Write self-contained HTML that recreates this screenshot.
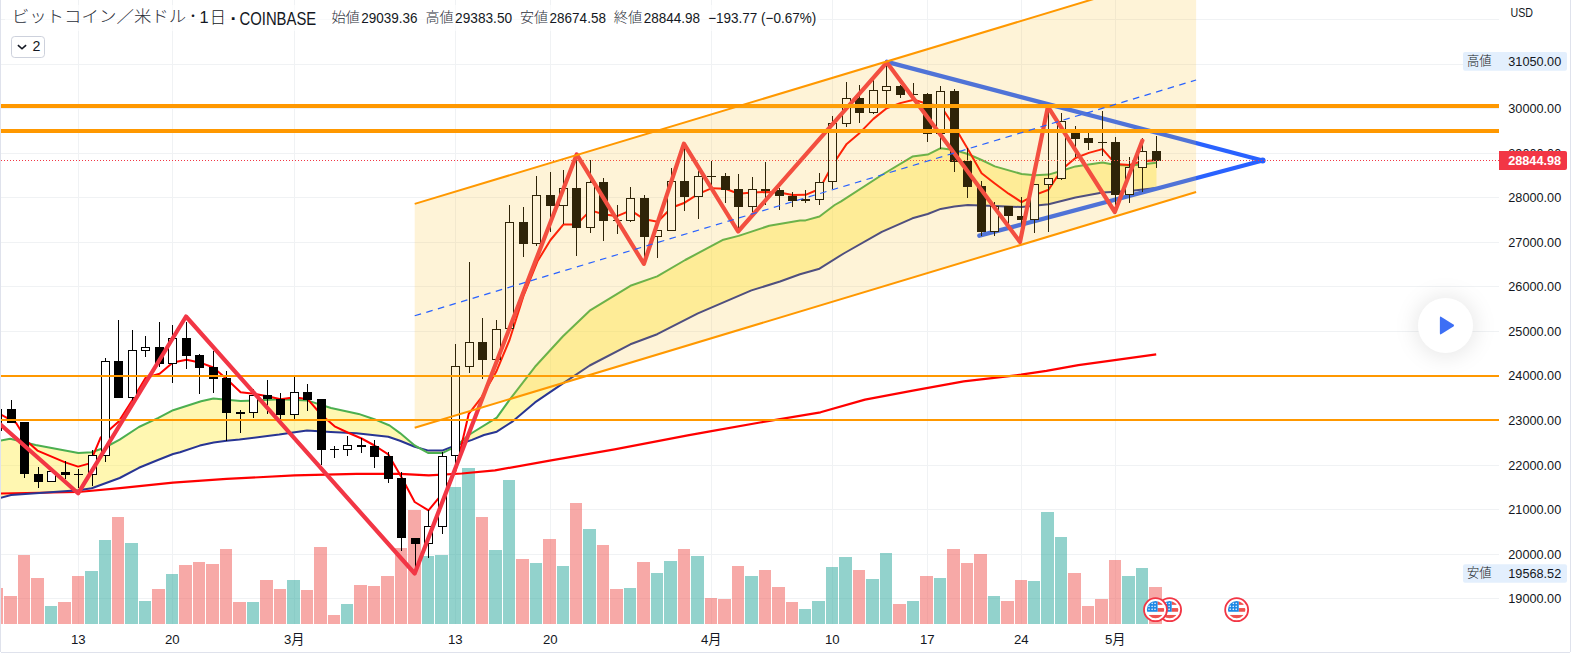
<!DOCTYPE html>
<html lang="ja"><head><meta charset="utf-8"><title>ビットコイン／米ドル</title>
<style>html,body{margin:0;padding:0;background:#fff;overflow:hidden}body{width:1571px;height:655px;position:relative;font-family:"Liberation Sans","Noto Sans CJK JP",sans-serif}</style>
</head><body>
<svg width="1571" height="655" viewBox="0 0 1571 655" style="position:absolute;left:0;top:0;display:block">
<defs><clipPath id="cp"><rect x="1" y="0" width="1498" height="624"/></clipPath><clipPath id="cv"><rect x="1" y="0" width="1498" height="652"/></clipPath>
<filter id="sh" x="-100%" y="-100%" width="300%" height="300%"><feGaussianBlur stdDeviation="10"/></filter>
<clipPath id="fc"><circle cx="0" cy="0" r="8.7"/></clipPath></defs>
<rect width="1571" height="655" fill="#fff"/>
<path d="M1 19.5H1499 M1 64.5H1499 M1 108.5H1499 M1 153.5H1499 M1 197.5H1499 M1 242.5H1499 M1 286.5H1499 M1 331.5H1499 M1 375.5H1499 M1 420.5H1499 M1 465.5H1499 M1 509.5H1499 M1 554.5H1499 M1 598.5H1499 M78.5 0V624 M172.5 0V624 M294.5 0V624 M455.5 0V624 M550.5 0V624 M711.5 0V624 M832.5 0V624 M927.5 0V624 M1021.5 0V624 M1115.5 0V624" stroke="#f0f2f4" stroke-width="1" fill="none" shape-rendering="crispEdges"/>
<g clip-path="url(#cv)">
<path d="M45 606H57V624H45ZM85 571H98V624H85ZM99 540H111V624H99ZM125 543H138V624H125ZM139 601H151V624H139ZM166 574H178V624H166ZM247 602H259V624H247ZM287 580H300V624H287ZM341 604H353V624H341ZM422 556H434V624H422ZM435 555H448V624H435ZM449 487H461V624H449ZM462 468H475V624H462ZM489 550H502V624H489ZM503 480H515V624H503ZM530 563H542V624H530ZM557 566H569V624H557ZM583 529H596V624H583ZM624 588H636V624H624ZM651 573H663V624H651ZM664 561H677V624H664ZM691 556H704V624H691ZM745 576H758V624H745ZM799 609H811V624H799ZM812 601H825V624H812ZM826 567H838V624H826ZM839 557H852V624H839ZM866 579H879V624H866ZM880 553H892V624H880ZM907 601H919V624H907ZM934 578H946V624H934ZM988 596H1000V624H988ZM1028 581H1040V624H1028ZM1041 512H1054V624H1041ZM1055 537H1067V624H1055ZM1122 576H1135V624H1122ZM1136 568H1148V624H1136Z" fill="#26a69a" fill-opacity="0.5" shape-rendering="crispEdges"/>
<path d="M-9 588H3V624H-9ZM4 596H17V624H4ZM18 555H30V624H18ZM31 578H44V624H31ZM58 602H71V624H58ZM72 576H84V624H72ZM112 517H124V624H112ZM152 589H165V624H152ZM179 565H192V624H179ZM193 562H205V624H193ZM206 564H219V624H206ZM220 549H232V624H220ZM233 602H246V624H233ZM260 580H273V624H260ZM274 589H286V624H274ZM301 590H313V624H301ZM314 547H327V624H314ZM328 615H340V624H328ZM354 585H367V624H354ZM368 586H380V624H368ZM381 576H394V624H381ZM395 548H407V624H395ZM408 510H421V624H408ZM476 517H488V624H476ZM516 559H529V624H516ZM543 539H556V624H543ZM570 503H582V624H570ZM597 545H609V624H597ZM610 589H623V624H610ZM637 562H650V624H637ZM678 549H690V624H678ZM705 598H717V624H705ZM718 599H731V624H718ZM732 566H744V624H732ZM759 570H771V624H759ZM772 587H785V624H772ZM786 602H798V624H786ZM853 570H865V624H853ZM893 604H906V624H893ZM920 576H933V624H920ZM947 549H960V624H947ZM961 563H973V624H961ZM974 554H987V624H974ZM1001 601H1014V624H1001ZM1015 580H1027V624H1015ZM1068 573H1081V624H1068ZM1082 606H1094V624H1082ZM1095 599H1108V624H1095ZM1109 560H1121V624H1109ZM1149 587H1162V624H1149Z" fill="#ef5350" fill-opacity="0.5" shape-rendering="crispEdges"/>
</g>
<g clip-path="url(#cp)">
<polygon points="0.0,440.6 10.2,438.7 35.6,445.0 78.4,453.0 91.7,452.2 105.0,447.5 119.7,439.6 138.9,427.0 157.9,418.2 173.1,410.2 201.1,401.3 213.4,398.5 240.6,401.1 280.0,399.3 307.8,400.6 331.0,408.0 358.6,413.9 374.3,419.2 389.6,425.5 400.0,433.1 414.7,445.5 428.5,453.1 442.2,453.1 455.5,446.7 468.7,435.0 496.8,417.7 509.5,399.9 535.0,366.8 563.0,336.2 589.7,310.7 630.4,285.8 657.2,276.4 685.2,260.0 723.4,239.7 738.6,235.9 769.2,225.7 800.0,220.6 805.5,220.4 819.5,216.5 834.7,205.0 841.1,201.3 881.8,175.0 912.4,156.6 927.7,154.6 940.7,148.2 954.4,150.0 967.8,154.0 981.6,160.0 994.8,166.4 1021.6,174.0 1035.1,175.3 1048.6,174.6 1061.8,170.7 1075.5,166.4 1088.8,164.6 1102.5,162.6 1115.5,165.0 1129.5,165.5 1142.8,164.2 1156.5,162.7 1156.5,188.1 1129.5,191.1 1102.5,192.4 1075.5,197.5 1048.6,204.3 1021.6,207.1 994.8,205.9 967.8,205.1 954.4,206.4 940.7,208.9 927.7,214.0 912.4,218.3 881.8,231.8 843.7,253.5 819.5,268.7 800.0,274.3 780.0,281.5 751.4,290.4 697.9,313.3 657.2,334.2 630.4,344.3 589.7,365.5 563.0,383.3 535.0,402.4 512.8,421.3 496.8,431.7 484.0,435.0 472.0,439.9 455.5,445.5 442.2,450.6 428.5,450.6 414.7,446.7 400.0,440.7 388.3,436.7 356.5,433.3 330.8,432.0 307.0,430.6 279.2,434.6 267.4,436.0 239.5,439.5 226.6,440.8 213.7,442.6 199.8,445.6 180.0,452.2 173.1,454.0 157.9,460.0 138.9,467.8 119.7,478.0 91.7,488.3 78.4,490.3 11.0,495.0 0.0,498.0" fill="#ffeb3b" fill-opacity="0.4"/>
<polyline points="0.0,493.5 78.0,492.0 120.0,488.2 173.0,482.7 226.6,478.9 294.6,475.4 356.5,473.8 400.0,473.8 428.7,475.3 461.8,473.5 495.0,470.4 549.7,460.7 614.6,449.3 687.7,435.3 711.4,431.2 760.0,422.5 820.5,412.3 865.0,399.6 912.8,390.7 963.7,381.4 1021.0,374.7 1046.4,370.9 1078.3,365.2 1116.5,359.8 1156.2,354.4" fill="none" stroke="#ff0000" stroke-width="2.2" stroke-linejoin="round"/>
<polyline points="0.0,498.0 11.0,495.0 78.4,490.3 91.7,488.3 119.7,478.0 138.9,467.8 157.9,460.0 173.1,454.0 180.0,452.2 199.8,445.6 213.7,442.6 226.6,440.8 239.5,439.5 267.4,436.0 279.2,434.6 307.0,430.6 330.8,432.0 356.5,433.3 388.3,436.7 400.0,440.7 414.7,446.7 428.5,450.6 442.2,450.6 455.5,445.5 472.0,439.9 484.0,435.0 496.8,431.7 512.8,421.3 535.0,402.4 563.0,383.3 589.7,365.5 630.4,344.3 657.2,334.2 697.9,313.3 751.4,290.4 780.0,281.5 800.0,274.3 819.5,268.7 843.7,253.5 881.8,231.8 912.4,218.3 927.7,214.0 940.7,208.9 954.4,206.4 967.8,205.1 994.8,205.9 1021.6,207.1 1048.6,204.3 1075.5,197.5 1102.5,192.4 1129.5,191.1 1156.5,188.1" fill="none" stroke="#283593" stroke-width="2" stroke-linejoin="round"/>
<polyline points="0.0,440.6 10.2,438.7 35.6,445.0 78.4,453.0 91.7,452.2 105.0,447.5 119.7,439.6 138.9,427.0 157.9,418.2 173.1,410.2 201.1,401.3 213.4,398.5 240.6,401.1 280.0,399.3 307.8,400.6 331.0,408.0 358.6,413.9 374.3,419.2 389.6,425.5 400.0,433.1 414.7,445.5 428.5,453.1 442.2,453.1 455.5,446.7 468.7,435.0 496.8,417.7 509.5,399.9 535.0,366.8 563.0,336.2 589.7,310.7 630.4,285.8 657.2,276.4 685.2,260.0 723.4,239.7 738.6,235.9 769.2,225.7 800.0,220.6 805.5,220.4 819.5,216.5 834.7,205.0 841.1,201.3 881.8,175.0 912.4,156.6 927.7,154.6 940.7,148.2 954.4,150.0 967.8,154.0 981.6,160.0 994.8,166.4 1021.6,174.0 1035.1,175.3 1048.6,174.6 1061.8,170.7 1075.5,166.4 1088.8,164.6 1102.5,162.6 1115.5,165.0 1129.5,165.5 1142.8,164.2 1156.5,162.7" fill="none" stroke="#4caf50" stroke-width="2" stroke-linejoin="round"/>
<polyline points="0.0,414.2 16.0,422.8 27.8,442.0 37.4,450.6 65.2,462.4 78.1,466.6 89.8,463.4 100.5,437.8 118.7,421.5 132.4,400.0 145.6,377.7 159.6,373.8 172.9,362.4 186.6,359.8 199.6,362.4 213.4,367.5 226.6,378.9 240.6,392.2 253.9,393.7 267.4,396.2 280.6,399.3 294.6,397.3 307.8,399.3 321.6,415.0 334.6,426.3 347.6,432.5 361.6,438.5 374.5,445.5 388.3,454.4 401.5,477.3 414.7,502.0 428.5,510.4 442.2,493.8 455.5,470.9 468.7,413.9 481.5,397.3 496.2,371.8 509.5,340.0 523.5,296.0 537.5,261.3 550.5,240.0 563.5,224.4 576.7,224.4 590.5,210.4 603.7,214.2 617.2,216.2 630.7,210.4 644.4,219.3 657.7,221.8 671.4,207.8 684.7,202.7 698.4,193.8 711.9,188.2 725.4,188.7 738.6,193.8 752.4,192.6 765.9,192.0 779.4,192.6 792.6,195.1 805.5,194.8 819.5,189.0 832.7,164.8 846.7,143.9 859.7,132.9 873.4,118.9 886.7,108.2 900.2,103.1 913.9,99.8 927.7,104.0 940.7,106.0 954.4,126.6 967.8,149.1 981.6,173.3 994.8,183.5 1008.6,193.7 1021.6,202.1 1035.1,194.9 1048.6,189.8 1061.8,169.5 1075.5,158.0 1088.8,152.9 1102.5,149.1 1115.5,163.9 1129.5,164.9 1142.5,161.2 1156.4,160.3" fill="none" stroke="#ff0000" stroke-width="2" stroke-linejoin="round"/>
<path d="M886.9 61.8L1262.6 160.5L979.3 235.7" stroke="#2962ff" stroke-width="4.3" fill="none" stroke-linejoin="round" stroke-linecap="round"/>
<circle cx="1262.6" cy="160.5" r="3" fill="#2962ff"/>
<path d="M-2.5 409V431M11.5 400V423M24.5 422V478M38.5 467V488M65.5 461V479M78.5 469V488M92.5 450V455M92.5 475V486M105.5 358V361M105.5 456V462M118.5 320V398M132.5 330V350M132.5 398V401M145.5 336V347M145.5 351V357M159.5 322V367M172.5 325V338M172.5 364V383M186.5 322V369M199.5 354V394M213.5 351V393M226.5 371V441M240.5 410V433M253.5 389V395M253.5 413V418M267.5 380V414M280.5 393V419M294.5 377V392M294.5 415V419M307.5 384V411M321.5 399V465M334.5 446V458M347.5 436V445M347.5 450V456M361.5 438V453M374.5 440V468M388.5 452V483M401.5 472V551M415.5 538V573M428.5 510V526M428.5 544V558M442.5 452V456M442.5 527V534M455.5 344V366M455.5 456V465M469.5 262V342M469.5 367V373M482.5 318V379M496.5 320V329M509.5 205V222M523.5 207V257M536.5 176V195M536.5 244V246M550.5 172V232M563.5 170V188M563.5 206V224M576.5 153V256M590.5 160V182M590.5 228V233M603.5 178V241M617.5 205V234M630.5 187V198M630.5 221V222M644.5 195V259M657.5 237V258M671.5 168V181M684.5 145V211M698.5 171V176M698.5 197V219M711.5 161V187M725.5 173V203M738.5 174V232M752.5 177V189M752.5 207V212M765.5 162V205M779.5 188V210M792.5 192V207M805.5 190V203M819.5 173V182M819.5 200V205M832.5 116V123M832.5 182V189M846.5 82V98M846.5 124V127M859.5 85V123M873.5 80V90M873.5 113V114M886.5 62V86M886.5 91V105M900.5 85V98M913.5 83V100M927.5 93V142M940.5 86V91M940.5 134V149M954.5 89V172M967.5 148V198M981.5 181V236M994.5 202V206M994.5 232V236M1008.5 206V226M1021.5 197V242M1034.5 220V233M1048.5 109V178M1048.5 185V232M1061.5 113V121M1061.5 179V180M1075.5 126V157M1088.5 133V150M1102.5 111V156M1115.5 137V214M1129.5 157V167M1129.5 195V203M1142.5 138V151M1142.5 168V192M1156.5 136V168" stroke="#000" stroke-width="1" fill="none" shape-rendering="crispEdges"/>
<path d="M-7 409H2V431H-7ZM7 409H16V423H7ZM20 422H29V474H20ZM34 474H43V482H34ZM61 472H70V475H61ZM74 474H83V475H74ZM114 361H123V398H114ZM155 347H164V364H155ZM182 338H191V356H182ZM195 355H204V368H195ZM209 367H218V379H209ZM222 378H231V413H222ZM236 412H245V414H236ZM263 395H272V399H263ZM276 399H285V415H276ZM303 392H312V400H303ZM317 399H326V450H317ZM330 449H339V450H330ZM357 445H366V447H357ZM370 446H379V457H370ZM384 456H393V479H384ZM397 478H406V538H397ZM411 538H420V544H411ZM478 342H487V360H478ZM519 222H528V244H519ZM546 195H555V206H546ZM572 188H581V228H572ZM599 182H608V221H599ZM613 220H622V221H613ZM640 198H649V237H640ZM680 181H689V197H680ZM707 176H716V177H707ZM721 176H730V190H721ZM734 189H743V207H734ZM761 189H770V191H761ZM775 190H784V196H775ZM788 196H797V201H788ZM801 199H810V201H801ZM855 98H864V113H855ZM896 86H905V95H896ZM909 94H918V95H909ZM923 94H932V134H923ZM950 91H959V162H950ZM963 161H972V187H963ZM977 186H986V232H977ZM1004 206H1013V216H1004ZM1017 216H1026V220H1017ZM1071 132H1080V139H1071ZM1084 138H1093V143H1084ZM1098 142H1107V143H1098ZM1111 142H1120V195H1111ZM1152 151H1161V161H1152Z" fill="#000" shape-rendering="crispEdges"/>
<path d="M47.5 471.5H55.5V481.5H47.5ZM88.5 455.5H96.5V474.5H88.5ZM101.5 361.5H109.5V455.5H101.5ZM128.5 350.5H136.5V397.5H128.5ZM141.5 347.5H149.5V350.5H141.5ZM168.5 338.5H176.5V363.5H168.5ZM249.5 395.5H257.5V412.5H249.5ZM290.5 392.5H298.5V414.5H290.5ZM343.5 445.5H351.5V449.5H343.5ZM424.5 526.5H432.5V543.5H424.5ZM438.5 456.5H446.5V526.5H438.5ZM451.5 366.5H459.5V455.5H451.5ZM465.5 342.5H473.5V366.5H465.5ZM492.5 329.5H500.5V359.5H492.5ZM505.5 222.5H513.5V328.5H505.5ZM532.5 195.5H540.5V243.5H532.5ZM559.5 188.5H567.5V205.5H559.5ZM586.5 182.5H594.5V227.5H586.5ZM626.5 198.5H634.5V220.5H626.5ZM653.5 230.5H661.5V236.5H653.5ZM667.5 181.5H675.5V230.5H667.5ZM694.5 176.5H702.5V196.5H694.5ZM748.5 189.5H756.5V206.5H748.5ZM815.5 182.5H823.5V199.5H815.5ZM828.5 123.5H836.5V181.5H828.5ZM842.5 98.5H850.5V123.5H842.5ZM869.5 90.5H877.5V112.5H869.5ZM882.5 86.5H890.5V90.5H882.5ZM936.5 91.5H944.5V133.5H936.5ZM990.5 206.5H998.5V231.5H990.5ZM1030.5 184.5H1038.5V219.5H1030.5ZM1044.5 178.5H1052.5V184.5H1044.5ZM1057.5 121.5H1065.5V178.5H1057.5ZM1125.5 167.5H1133.5V194.5H1125.5ZM1138.5 151.5H1146.5V167.5H1138.5Z" fill="#fff" stroke="#000" stroke-width="1" shape-rendering="crispEdges"/>
<path d="M0 376H1499M0 420H1499" stroke="#ff9800" stroke-width="2" fill="none"/>
<polyline points="-4.0,420.5 78.1,493.3 186.0,316.5 414.7,573.5 576.7,154.4 643.9,263.9 683.9,143.7 738.1,231.5 886.9,62.4 1020.0,242.0 1047.9,106.7 1114.8,212.0 1142.4,140.6" fill="none" stroke="#f23645" stroke-width="4.2" stroke-linejoin="round" stroke-linecap="round"/>
<path d="M0 106H1499M0 131H1499" stroke="#ff9800" stroke-width="4" fill="none"/>
<path d="M1 160.5H1499" stroke="#f23645" stroke-width="1" stroke-dasharray="1 2" fill="none" shape-rendering="crispEdges"/>
<polygon points="414.7,203.9 1196.1,-31.9 1196.1,192.0 414.7,427.8" fill="#fbc02d" fill-opacity="0.19"/>
<path d="M414.7 203.9L1196.1 -31.9M414.7 427.8L1196.1 192.0" stroke="#ff9800" stroke-width="2" fill="none"/>
<path d="M414.7 315.8L1196.1 80.0" stroke="#2962ff" stroke-width="1.2" stroke-dasharray="6.6 5.5" fill="none"/>
</g>
<path d="M0.5 0V652M1570.5 0V652M1 652.5H1570" stroke="#dfe2ec" stroke-width="1" fill="none" shape-rendering="crispEdges"/>
<g transform="translate(1236.66 609.66)"><circle r="11.5" fill="#fff" stroke="#f23645" stroke-width="1.8"/><g clip-path="url(#fc)"><rect x="-9" y="-9" width="18" height="18" fill="#fff"/><rect x="2" y="-9" width="8" height="4.2" fill="#ef5350"/><rect x="2" y="-1.6" width="8" height="3.7" fill="#ef5350"/><rect x="-9" y="5.3" width="18" height="4" fill="#ef5350"/><rect x="-9" y="-9" width="11.1" height="11.1" fill="#1e88e5"/><rect x="-7.1" y="-7.0" width="1.3" height="1.3" fill="#fff" transform="rotate(45 -6.4 -6.3)"/><rect x="-4.0" y="-7.0" width="1.3" height="1.3" fill="#fff" transform="rotate(45 -3.4 -6.3)"/><rect x="-1.1" y="-7.0" width="1.3" height="1.3" fill="#fff" transform="rotate(45 -0.5 -6.3)"/><rect x="-7.1" y="-4.0" width="1.3" height="1.3" fill="#fff" transform="rotate(45 -6.4 -3.4)"/><rect x="-4.0" y="-4.0" width="1.3" height="1.3" fill="#fff" transform="rotate(45 -3.4 -3.4)"/><rect x="-1.1" y="-4.0" width="1.3" height="1.3" fill="#fff" transform="rotate(45 -0.5 -3.4)"/><rect x="-7.1" y="-1.1" width="1.3" height="1.3" fill="#fff" transform="rotate(45 -6.4 -0.5)"/><rect x="-4.0" y="-1.1" width="1.3" height="1.3" fill="#fff" transform="rotate(45 -3.4 -0.5)"/><rect x="-1.1" y="-1.1" width="1.3" height="1.3" fill="#fff" transform="rotate(45 -0.5 -0.5)"/></g></g>
<g transform="translate(1169.60 609.66)"><circle r="11.5" fill="#fff" stroke="#f23645" stroke-width="1.8"/><g clip-path="url(#fc)"><rect x="-9" y="-9" width="18" height="18" fill="#fff"/><rect x="2" y="-9" width="8" height="4.2" fill="#ef5350"/><rect x="2" y="-1.6" width="8" height="3.7" fill="#ef5350"/><rect x="-9" y="5.3" width="18" height="4" fill="#ef5350"/><rect x="-9" y="-9" width="11.1" height="11.1" fill="#1e88e5"/><rect x="-7.1" y="-7.0" width="1.3" height="1.3" fill="#fff" transform="rotate(45 -6.4 -6.3)"/><rect x="-4.0" y="-7.0" width="1.3" height="1.3" fill="#fff" transform="rotate(45 -3.4 -6.3)"/><rect x="-1.1" y="-7.0" width="1.3" height="1.3" fill="#fff" transform="rotate(45 -0.5 -6.3)"/><rect x="-7.1" y="-4.0" width="1.3" height="1.3" fill="#fff" transform="rotate(45 -6.4 -3.4)"/><rect x="-4.0" y="-4.0" width="1.3" height="1.3" fill="#fff" transform="rotate(45 -3.4 -3.4)"/><rect x="-1.1" y="-4.0" width="1.3" height="1.3" fill="#fff" transform="rotate(45 -0.5 -3.4)"/><rect x="-7.1" y="-1.1" width="1.3" height="1.3" fill="#fff" transform="rotate(45 -6.4 -0.5)"/><rect x="-4.0" y="-1.1" width="1.3" height="1.3" fill="#fff" transform="rotate(45 -3.4 -0.5)"/><rect x="-1.1" y="-1.1" width="1.3" height="1.3" fill="#fff" transform="rotate(45 -0.5 -0.5)"/></g></g>
<g transform="translate(1155.50 609.66)"><circle r="11.5" fill="#fff" stroke="#f23645" stroke-width="1.8"/><g clip-path="url(#fc)"><rect x="-9" y="-9" width="18" height="18" fill="#fff"/><rect x="2" y="-9" width="8" height="4.2" fill="#ef5350"/><rect x="2" y="-1.6" width="8" height="3.7" fill="#ef5350"/><rect x="-9" y="5.3" width="18" height="4" fill="#ef5350"/><rect x="-9" y="-9" width="11.1" height="11.1" fill="#1e88e5"/><rect x="-7.1" y="-7.0" width="1.3" height="1.3" fill="#fff" transform="rotate(45 -6.4 -6.3)"/><rect x="-4.0" y="-7.0" width="1.3" height="1.3" fill="#fff" transform="rotate(45 -3.4 -6.3)"/><rect x="-1.1" y="-7.0" width="1.3" height="1.3" fill="#fff" transform="rotate(45 -0.5 -6.3)"/><rect x="-7.1" y="-4.0" width="1.3" height="1.3" fill="#fff" transform="rotate(45 -6.4 -3.4)"/><rect x="-4.0" y="-4.0" width="1.3" height="1.3" fill="#fff" transform="rotate(45 -3.4 -3.4)"/><rect x="-1.1" y="-4.0" width="1.3" height="1.3" fill="#fff" transform="rotate(45 -0.5 -3.4)"/><rect x="-7.1" y="-1.1" width="1.3" height="1.3" fill="#fff" transform="rotate(45 -6.4 -0.5)"/><rect x="-4.0" y="-1.1" width="1.3" height="1.3" fill="#fff" transform="rotate(45 -3.4 -0.5)"/><rect x="-1.1" y="-1.1" width="1.3" height="1.3" fill="#fff" transform="rotate(45 -0.5 -0.5)"/></g></g>
<circle cx="1445.6" cy="326.5" r="31" fill="#000" fill-opacity="0.085" filter="url(#sh)"/>
<circle cx="1445.5" cy="325.5" r="27.6" fill="#fff"/>
<path d="M1439.9 317.8Q1439.9 316 1441.4 316.9L1453.4 324.5Q1454.8 325.5 1453.4 326.5L1441.4 334.1Q1439.9 335 1439.9 333.2Z" fill="#3d6ff5"/>
<g font-family="Liberation Sans, Noto Sans CJK JP, sans-serif">
<text x="1508.3" y="603.0" font-size="13.2" fill="#131722" textLength="52.9" lengthAdjust="spacingAndGlyphs">19000.00</text>
<text x="1508.3" y="559.0" font-size="13.2" fill="#131722" textLength="52.9" lengthAdjust="spacingAndGlyphs">20000.00</text>
<text x="1508.3" y="514.0" font-size="13.2" fill="#131722" textLength="52.9" lengthAdjust="spacingAndGlyphs">21000.00</text>
<text x="1508.3" y="470.0" font-size="13.2" fill="#131722" textLength="52.9" lengthAdjust="spacingAndGlyphs">22000.00</text>
<text x="1508.3" y="425.0" font-size="13.2" fill="#131722" textLength="52.9" lengthAdjust="spacingAndGlyphs">23000.00</text>
<text x="1508.3" y="380.0" font-size="13.2" fill="#131722" textLength="52.9" lengthAdjust="spacingAndGlyphs">24000.00</text>
<text x="1508.3" y="336.0" font-size="13.2" fill="#131722" textLength="52.9" lengthAdjust="spacingAndGlyphs">25000.00</text>
<text x="1508.3" y="291.0" font-size="13.2" fill="#131722" textLength="52.9" lengthAdjust="spacingAndGlyphs">26000.00</text>
<text x="1508.3" y="247.0" font-size="13.2" fill="#131722" textLength="52.9" lengthAdjust="spacingAndGlyphs">27000.00</text>
<text x="1508.3" y="202.0" font-size="13.2" fill="#131722" textLength="52.9" lengthAdjust="spacingAndGlyphs">28000.00</text>
<g clip-path="url(#c29)"><text x="1508.3" y="158.0" font-size="13.2" fill="#131722" textLength="52.9" lengthAdjust="spacingAndGlyphs">29000.00</text></g>
<text x="1508.3" y="113.0" font-size="13.2" fill="#131722" textLength="52.9" lengthAdjust="spacingAndGlyphs">30000.00</text>
<rect x="1463" y="51.9" width="104" height="18.8" rx="2" fill="#e3effd"/>
<text x="1467.0" y="65.2" font-size="12.6" fill="#131722" textLength="24.6" lengthAdjust="spacingAndGlyphs" font-weight="300">高値</text>
<text x="1508.3" y="66.2" font-size="13.2" fill="#131722" textLength="52.9" lengthAdjust="spacingAndGlyphs">31050.00</text>
<rect x="1463" y="564.2" width="104" height="18.5" rx="2" fill="#e3effd"/>
<text x="1467.0" y="577.0" font-size="12.6" fill="#131722" textLength="24.6" lengthAdjust="spacingAndGlyphs" font-weight="300">安値</text>
<text x="1508.3" y="577.9" font-size="13.2" fill="#131722" textLength="52.9" lengthAdjust="spacingAndGlyphs">19568.52</text>
<path d="M1499 151H1565Q1567 151 1567 153V168Q1567 170 1565 170H1499Z" fill="#f23645"/>
<text x="1508.2" y="165.3" font-size="13.2" fill="#fff" textLength="52.9" lengthAdjust="spacingAndGlyphs" font-weight="bold">28844.98</text>
<text x="1510.5" y="16.6" font-size="12.2" fill="#131722" textLength="22.5" lengthAdjust="spacingAndGlyphs">USD</text>
<text x="78.3" y="644.2" font-size="13.2" fill="#131722" text-anchor="middle">13</text>
<text x="172.3" y="644.2" font-size="13.2" fill="#131722" text-anchor="middle">20</text>
<text x="294.3" y="644.2" font-size="13.2" fill="#131722" text-anchor="middle">3月</text>
<text x="455.3" y="644.2" font-size="13.2" fill="#131722" text-anchor="middle">13</text>
<text x="550.3" y="644.2" font-size="13.2" fill="#131722" text-anchor="middle">20</text>
<text x="711.3" y="644.2" font-size="13.2" fill="#131722" text-anchor="middle">4月</text>
<text x="832.3" y="644.2" font-size="13.2" fill="#131722" text-anchor="middle">10</text>
<text x="927.3" y="644.2" font-size="13.2" fill="#131722" text-anchor="middle">17</text>
<text x="1021.3" y="644.2" font-size="13.2" fill="#131722" text-anchor="middle">24</text>
<text x="1115.3" y="644.2" font-size="13.2" fill="#131722" text-anchor="middle">5月</text>
<rect x="5" y="5" width="815" height="26" fill="#fff" fill-opacity="0.6"/>
<text x="11.7" y="22.0" font-size="16.2" fill="#2a2e39" textLength="174.6" lengthAdjust="spacingAndGlyphs" font-weight="300">ビットコイン／米ドル</text>
<text x="187.0" y="20.7" font-size="12.0" fill="#131722">・</text>
<text x="199.4" y="23.3" font-size="16.4" fill="#131722">1</text>
<text x="209.8" y="23.0" font-size="16.2" fill="#131722" font-weight="300">日</text>
<text x="230.4" y="24.8" font-size="19.0" fill="#131722" font-weight="bold">·</text>
<text x="239.5" y="24.6" font-size="17.6" fill="#131722" textLength="76.7" lengthAdjust="spacingAndGlyphs">COINBASE</text>
<text x="331.4" y="22.4" font-size="13.2" fill="#2a2e39" textLength="28.4" lengthAdjust="spacingAndGlyphs" font-weight="300">始値</text>
<text x="361.3" y="23.0" font-size="14.5" fill="#131722" textLength="56.3" lengthAdjust="spacingAndGlyphs">29039.36</text>
<text x="425.5" y="22.4" font-size="13.2" fill="#2a2e39" textLength="28.1" lengthAdjust="spacingAndGlyphs" font-weight="300">高値</text>
<text x="455.1" y="23.0" font-size="14.5" fill="#131722" textLength="57.0" lengthAdjust="spacingAndGlyphs">29383.50</text>
<text x="520.0" y="22.4" font-size="13.2" fill="#2a2e39" textLength="28.1" lengthAdjust="spacingAndGlyphs" font-weight="300">安値</text>
<text x="549.6" y="23.0" font-size="14.5" fill="#131722" textLength="56.3" lengthAdjust="spacingAndGlyphs">28674.58</text>
<text x="613.7" y="22.4" font-size="13.2" fill="#2a2e39" textLength="28.5" lengthAdjust="spacingAndGlyphs" font-weight="300">終値</text>
<text x="643.7" y="23.0" font-size="14.5" fill="#131722" textLength="56.3" lengthAdjust="spacingAndGlyphs">28844.98</text>
<text x="708.2" y="23.0" font-size="14.5" fill="#131722" textLength="108.0" lengthAdjust="spacingAndGlyphs">−193.77 (−0.67%)</text>
<rect x="11.5" y="36.5" width="33" height="21" rx="3.2" fill="#fff" stroke="#cdd1dc" stroke-width="1"/>
<path d="M17.9 45.2L22 48.8L26.1 45.2" stroke="#131722" stroke-width="1.6" fill="none"/>
<text x="32.6" y="51.0" font-size="14.2" fill="#131722">2</text>
</g>
<defs><clipPath id="c29"><rect x="1500" y="140" width="70" height="11"/></clipPath></defs>
</svg>
</body></html>
